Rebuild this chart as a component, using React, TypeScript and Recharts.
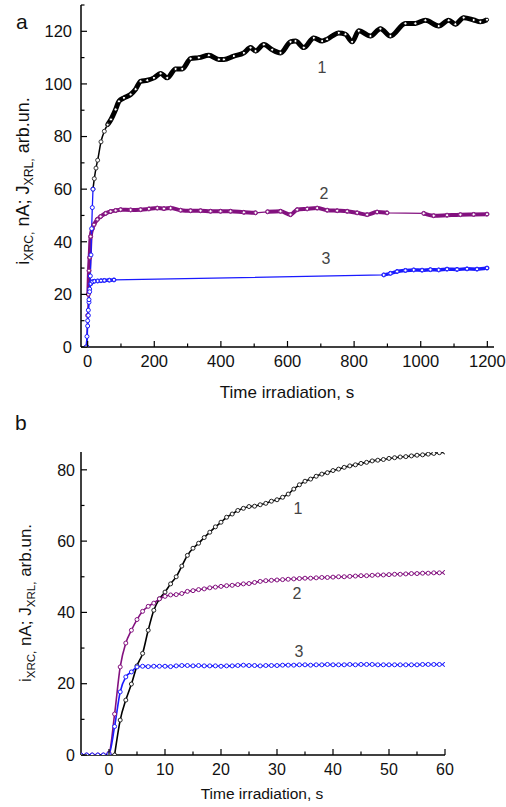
import React from 'react'
import { LineChart, Line, XAxis, YAxis } from 'recharts'

// ---- panel a: long irradiation (0..1200 s) ----
const aRiseT = [-2, 0, 2, 4, 6, 8, 10, 12, 14, 16]
const aRiseV = [0, 8, 12, 17, 22, 27, 35, 45, 53, 60]

const aT1 = [16, 20, 25, 30, 40, 50, 60, 70, 84, 94, 109, 129, 144, 159, 179, 199, 219, 239, 264, 284, 309, 334, 364, 394, 409, 439, 469, 489, 504, 529, 554, 579, 609, 624, 649, 679, 704, 719, 754, 774, 794, 814, 849, 879, 909, 954, 984, 1014, 1054, 1084, 1104, 1129, 1159, 1179, 1199]
const aV1 = [60, 64, 68, 71, 78, 82, 84.5, 86.5, 90.3, 93.4, 94.7, 96, 98, 101, 101.4, 102.3, 104, 102.3, 105.7, 105.7, 109.6, 110, 110.9, 109.3, 109.3, 110.6, 111.8, 113.8, 112.5, 115, 113, 111.8, 116, 116.3, 113.8, 117.5, 116.3, 117, 119.4, 118.9, 116, 120.2, 118.2, 121, 118.2, 123, 123, 124.2, 122, 124.2, 122.7, 125.2, 124.3, 123.6, 124.4]

const aT2 = [-3, 0, 2, 4, 6, 9, 14, 19, 29, 39, 54, 69, 84, 99, 129, 159, 184, 209, 229, 249, 279, 309, 339, 369, 399, 429, 469, 504, 540, 579, 609, 629, 659, 689, 719, 749, 779, 809, 839, 869, 899, 1009, 1039, 1079, 1119, 1159, 1199]
const aV2 = [0, 12, 20, 29, 34, 42, 45, 46.5, 48.5, 49.6, 50.8, 51.5, 51.9, 52.2, 52.1, 52.2, 52.5, 52.8, 52.6, 52.8, 52, 51.8, 51.8, 51.6, 51.6, 51.6, 51.2, 51, 51.4, 51.6, 50.3, 52.2, 52.5, 52.8, 52, 51.8, 51.6, 51, 50.3, 51.3, 51, 50.8, 49.9, 50.1, 50.3, 50.4, 50.5]

const aT3 = [-5, -2, 0, 2, 4, 6, 9, 14, 20, 30, 40, 50, 65, 79, 889, 909, 929, 954, 979, 1004, 1029, 1054, 1079, 1109, 1139, 1169, 1199]
const aV3 = [0, 4, 10, 14, 18, 21, 24, 24.8, 25, 25.1, 25.2, 25.3, 25.4, 25.5, 27.4, 28, 28.7, 29.1, 29.3, 29.2, 29.4, 29.3, 29.6, 29.5, 29.7, 29.6, 30]

const aXTicks = [0, 100, 200, 300, 400, 500, 600, 700, 800, 900, 1000, 1100, 1200]
const aYTicks = [0, 10, 20, 30, 40, 50, 60, 70, 80, 90, 100, 110, 120, 130]

// ---- panel b: first minute, one point per second ----
const bStart = -5
const bV1 = [1, 0, 9.8, 15.4, 19.9, 25, 28.5, 35, 40.6, 43.8, 45.7, 48, 50, 53, 56, 58, 59.4, 61, 62.5, 64, 65.3, 66.7, 67.6, 68.6, 69.2, 69.7, 69.8, 70.2, 70.6, 71.2, 71.6, 72.3, 73.2, 74.6, 75.8, 76.8, 77.4, 78.2, 78.8, 79.2, 79.8, 80.2, 80.7, 81.1, 81.4, 81.8, 82.1, 82.5, 82.7, 82.9, 83.2, 83.4, 83.6, 83.7, 83.9, 84.1, 84.2, 84.4, 84.6, 84.8, 85]
const bV2 = [0, 0, 0, 0, 0, 0.5, 11.5, 24.7, 31.4, 35, 38, 40.3, 41.7, 42.6, 43.8, 44.5, 44.9, 45, 45.3, 45.9, 46.1, 46.4, 46.6, 46.9, 47.1, 47.3, 47.5, 47.6, 47.8, 48, 48.1, 48.4, 48.7, 48.9, 49, 49.1, 49.2, 49.3, 49.4, 49.5, 49.6, 49.6, 49.7, 49.8, 49.8, 49.9, 50, 50, 50.1, 50.2, 50.3, 50.3, 50.4, 50.5, 50.5, 50.6, 50.7, 50.7, 50.8, 50.9, 50.9, 51, 51, 51.1, 51.1, 51.2]
const bV3 = [0, 0, 0, 0, 0, 0.3, 8, 17.7, 21.9, 23.3, 24.7, 24.9, 24.8, 24.9, 24.9, 24.9, 24.8, 25, 25.1, 25.1, 25, 25.1, 25, 25, 25, 24.9, 25, 25, 25.1, 25.2, 25.1, 25.1, 25, 25.1, 25.1, 25.1, 25.2, 25.2, 25.2, 25.3, 25.3, 25.2, 25.3, 25.3, 25.4, 25.3, 25.3, 25.3, 25.4, 25.3, 25.4, 25.4, 25.4, 25.3, 25.3, 25.3, 25.3, 25.3, 25.3, 25.3, 25.3, 25.4, 25.4, 25.4, 25.4, 25.4]

const bXTicks = [0, 5, 10, 15, 20, 25, 30, 35, 40, 45, 50, 55, 60]
const bYTicks = [0, 10, 20, 30, 40, 50, 60, 70, 80]

const BLACK = '#000000'
const PURPLE = '#83117f'
const BLUE = '#1a1aff'
const FONT = '"Liberation Sans", Arial, sans-serif'

const pts = (ts: number[], vs: number[]) => ts.map((t, i) => ({ t, v: vs[i] }))
const span = (d: { t: number; v: number }[], lo: number, hi: number) =>
  d.filter((p) => p.t >= lo && p.t <= hi)

const a1 = pts(aT1, aV1)
const aRise = pts(aRiseT, aRiseV)
const a2 = pts(aT2, aV2)
const a3 = pts(aT3, aV3)

// first value of bV1 is the start second of curve 1
const b1 = bV1.slice(1).map((v, i) => ({ t: bV1[0] + i, v }))
const b2 = bV2.map((v, i) => ({ t: bStart + i, v }))
const b3 = bV3.map((v, i) => ({ t: bStart + i, v }))

const GAP = 8

const xTick = (step: number, fs: number) => (props: any) => {
  const { x, y, payload } = props
  const major = payload.value % step === 0
  const y0 = y - GAP
  return (
    <g>
      <line x1={x} x2={x} y1={y0} y2={y0 - (major ? 6 : 3.5)} stroke="#000" strokeWidth={1.2} />
      {major && (
        <text x={x} y={y0 + 8} dy="0.75em" textAnchor="middle" fontSize={fs} fontFamily={FONT} fill="#111">
          {payload.value}
        </text>
      )}
    </g>
  )
}

const yTick = (step: number, fs: number, margin: number) => (props: any) => {
  const { x, y, payload } = props
  const major = payload.value % step === 0
  const x0 = x + GAP
  return (
    <g>
      <line x1={x0} x2={x0 + (major ? 6 : 3.5)} y1={y} y2={y} stroke="#000" strokeWidth={1.2} />
      {major && (
        <text x={x0 - margin} y={y} dy="0.36em" textAnchor="end" fontSize={fs} fontFamily={FONT} fill="#111">
          {payload.value}
        </text>
      )}
    </g>
  )
}

const openDot = (color: string, r = 2) => ({ r, fill: '#fff', stroke: color, strokeWidth: 1 })

function YTitle({ x, y, fs }: { x: number; y: number; fs: number }) {
  return (
    <text
      x={x}
      y={y}
      transform={`rotate(-90 ${x} ${y})`}
      textAnchor="middle"
      fontSize={fs}
      fontFamily={FONT}
      fill="#111"
    >
      i
      <tspan fontSize={fs * 0.68} dy={4}>XRC,</tspan>
      <tspan dy={-4}> nA;  J</tspan>
      <tspan fontSize={fs * 0.68} dy={4}>XRL,</tspan>
      <tspan dy={-4}> arb.un.</tspan>
    </text>
  )
}

export default function App() {
  const axisLine = { stroke: '#000', strokeWidth: 1.5 }
  return (
    <div style={{ position: 'absolute', left: 0, top: 0, width: 506, height: 807, background: '#fff' }}>
      <div style={{ position: 'absolute', left: 0, top: 0 }}>
        <LineChart width={506} height={380} margin={{ top: 5, right: 12, bottom: 0, left: 0 }}>
          <XAxis
            type="number"
            dataKey="t"
            domain={[-20, 1220]}
            ticks={aXTicks}
            interval={0}
            height={33}
            tickSize={0}
            tickMargin={GAP}
            tickLine={false}
            axisLine={axisLine}
            tick={xTick(200, 16.5)}
            allowDataOverflow
          />
          <YAxis
            type="number"
            dataKey="v"
            domain={[0, 130]}
            ticks={aYTicks}
            interval={0}
            width={81}
            tickSize={0}
            tickMargin={GAP}
            tickLine={false}
            axisLine={axisLine}
            tick={yTick(20, 16.5, 9)}
            allowDataOverflow
          />
          <Line data={span(a1, 16, 60)} dataKey="v" type="monotone" stroke={BLACK} strokeWidth={1.5} dot={openDot('#333', 2)} isAnimationActive={false} />
          <Line data={span(a1, 60, 1199)} dataKey="v" type="monotone" stroke={BLACK} strokeWidth={5} dot={openDot(BLACK, 1.6)} isAnimationActive={false} />
          <Line data={a2} dataKey="v" type="linear" stroke={PURPLE} strokeWidth={1.3} dot={openDot(PURPLE, 2)} isAnimationActive={false} />
          <Line data={span(a2, 2, 504)} dataKey="v" type="monotone" stroke={PURPLE} strokeWidth={4} dot={openDot(PURPLE, 1.6)} isAnimationActive={false} />
          <Line data={span(a2, 540, 899)} dataKey="v" type="monotone" stroke={PURPLE} strokeWidth={4} dot={openDot(PURPLE, 1.6)} isAnimationActive={false} />
          <Line data={span(a2, 1009, 1199)} dataKey="v" type="monotone" stroke={PURPLE} strokeWidth={4} dot={openDot(PURPLE, 1.6)} isAnimationActive={false} />
          <Line data={aRise} dataKey="v" type="linear" stroke={BLUE} strokeWidth={1.3} dot={openDot(BLUE, 2)} isAnimationActive={false} />
          <Line data={a3} dataKey="v" type="linear" stroke={BLUE} strokeWidth={1.3} dot={openDot(BLUE, 2)} isAnimationActive={false} />
          <Line data={span(a3, 9, 79)} dataKey="v" type="monotone" stroke={BLUE} strokeWidth={3.5} dot={openDot(BLUE, 1.6)} isAnimationActive={false} />
          <Line data={span(a3, 889, 1199)} dataKey="v" type="monotone" stroke={BLUE} strokeWidth={3.5} dot={openDot(BLUE, 1.6)} isAnimationActive={false} />
        </LineChart>
      </div>

      <div style={{ position: 'absolute', left: 0, top: 440 }}>
        <LineChart width={506} height={340} margin={{ top: 12, right: 61, bottom: 0, left: 0 }}>
          <XAxis
            type="number"
            dataKey="t"
            domain={[-5, 60]}
            ticks={bXTicks}
            interval={0}
            height={25}
            tickSize={0}
            tickMargin={GAP}
            tickLine={false}
            axisLine={axisLine}
            tick={xTick(10, 16)}
            allowDataOverflow
          />
          <YAxis
            type="number"
            dataKey="v"
            domain={[0, 85]}
            ticks={bYTicks}
            interval={0}
            width={81}
            tickSize={0}
            tickMargin={GAP}
            tickLine={false}
            axisLine={axisLine}
            tick={yTick(20, 16, 6)}
            allowDataOverflow
          />
          <Line data={b1} dataKey="v" type="monotone" stroke={BLACK} strokeWidth={1.6} dot={openDot('#222', 2)} isAnimationActive={false} />
          <Line data={b2} dataKey="v" type="monotone" stroke={PURPLE} strokeWidth={1.6} dot={openDot(PURPLE, 2)} isAnimationActive={false} />
          <Line data={b3} dataKey="v" type="monotone" stroke={BLUE} strokeWidth={1.6} dot={openDot(BLUE, 2)} isAnimationActive={false} />
        </LineChart>
      </div>

      <svg width={506} height={807} style={{ position: 'absolute', left: 0, top: 0, pointerEvents: 'none' }}>
        <g fontFamily={FONT} fill="#111">
          <text x={16} y={29} fontSize={21}>a</text>
          <text x={15} y={430} fontSize={21}>b</text>
          <text x={287} y={398} fontSize={17} textAnchor="middle">Time irradiation, s</text>
          <text x={262} y={799} fontSize={15.5} textAnchor="middle">Time irradiation, s</text>
        </g>
        <YTitle x={29} y={181} fs={18} />
        <YTitle x={31} y={603} fs={17} />
        <g fontFamily={FONT} fill="#444" fontSize={16} textAnchor="middle">
          <text x={322} y={73}>1</text>
          <text x={324} y={199}>2</text>
          <text x={326} y={264}>3</text>
          <text x={298} y={514}>1</text>
          <text x={297} y={599}>2</text>
          <text x={299} y={657}>3</text>
        </g>
      </svg>
    </div>
  )
}
